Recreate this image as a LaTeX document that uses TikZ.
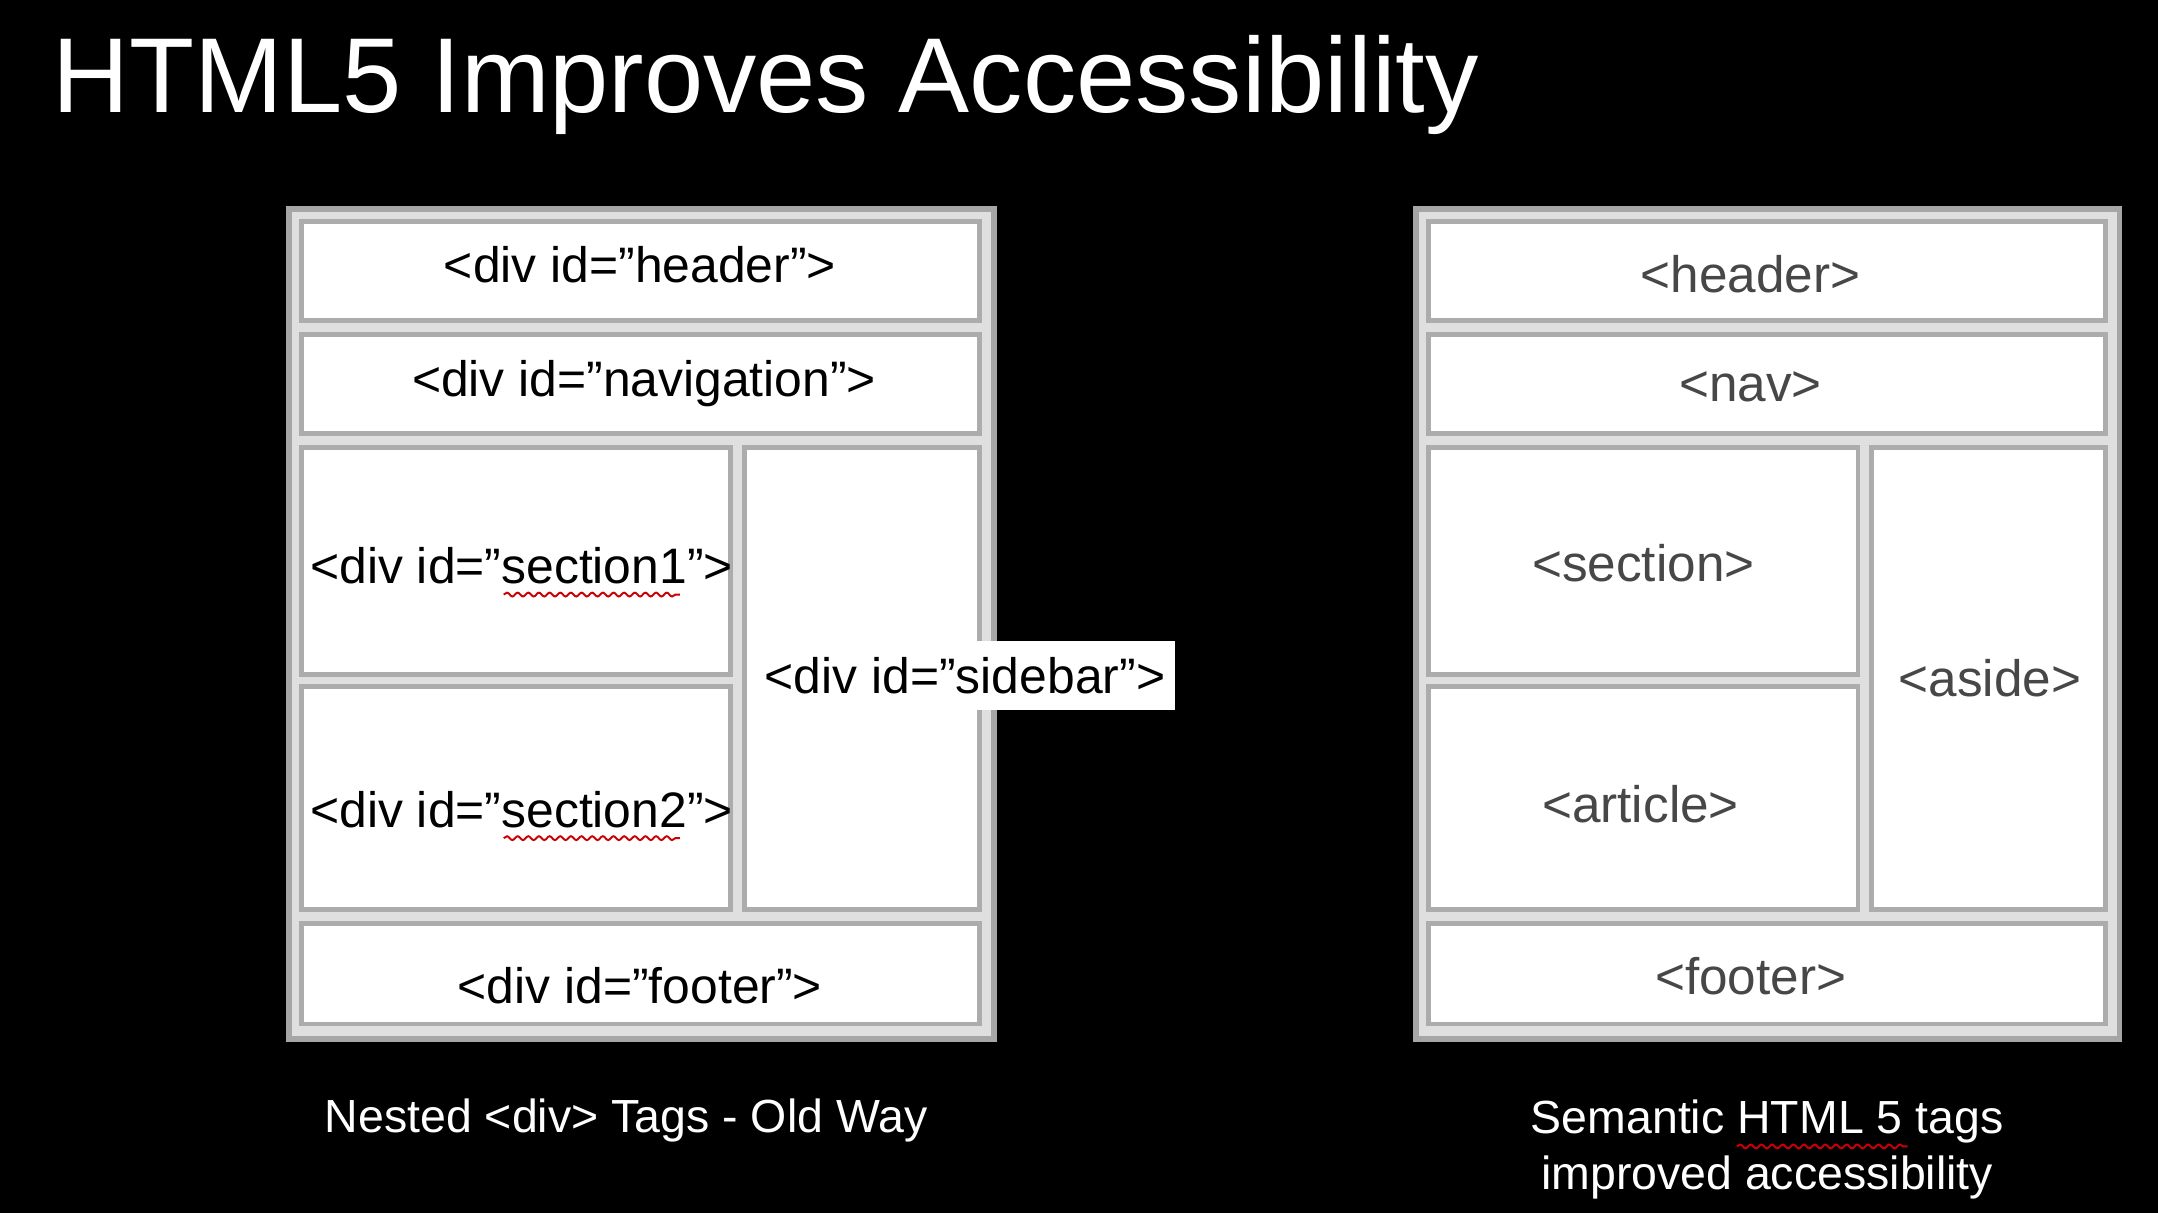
\documentclass[tikz,border=0pt]{standalone}
\usepackage{fontspec}
\setmainfont{Liberation Sans}
\usetikzlibrary{decorations.pathmorphing}
\begin{document}
\begin{tikzpicture}[x=0.01cm,y=-0.01cm,
  panel/.style={draw=gray!70,line width=1.2pt,fill=gray!25},
  cell/.style={draw=gray!65,line width=1pt,fill=white},
  ltxt/.style={font=\fontsize{10.3pt}{12pt}\selectfont,text=black},
  rtxt/.style={font=\fontsize{10.6pt}{12pt}\selectfont,text=black!72},
  captxt/.style={font=\fontsize{9.6pt}{11.5pt}\selectfont,text=white,align=center},
  squig/.style={draw=red!80!black,line width=0.4pt,decorate,decoration={snake,amplitude=0.4pt,segment length=2.2pt}}]
\fill[black] (0,0) rectangle (1568,881);
\useasboundingbox (0,0) rectangle (1568,881);
\node[anchor=west,text=white,font=\fontsize{22pt}{26pt}\selectfont] (title) at (26,62) {HTML5 Improves Accessibility};
% left panel
\draw[panel] (210,152) rectangle (722,755);
\draw[cell] (219,161) rectangle (712,233);
\draw[cell] (219,243) rectangle (712,315);
\draw[cell] (219,325) rectangle (531,490);
\draw[cell] (219,499) rectangle (531,661);
\draw[cell] (541,325) rectangle (712,661);
\draw[cell] (219,671) rectangle (712,744);
\node[ltxt] (lh) at (465,192) {<div id=”header”>};
\node[ltxt] (ln) at (468,279) {<div id=”navigation”>};
\node[ltxt] (ls1) at (379,411) {<div id=”section1”>};
\node[ltxt] (ls2) at (379,588) {<div id=”section2”>};
\node[ltxt,fill=white,inner xsep=2pt,minimum height=0.48cm,anchor=west] (lsb) at (548,491) {<div id=”sidebar”>};
\node[ltxt] (lf) at (465,716) {<div id=”footer”>};
\draw[squig] (366,432) -- (494,432);
\draw[squig] (366,609) -- (494,609);
\node[captxt] (lcap) at (455,814) {Nested <div> Tags - Old Way};
% right panel
\draw[panel] (1029,152) rectangle (1540,755);
\draw[cell] (1038,161) rectangle (1530,233);
\draw[cell] (1038,243) rectangle (1530,315);
\draw[cell] (1038,325) rectangle (1350,490);
\draw[cell] (1038,499) rectangle (1350,661);
\draw[cell] (1360,325) rectangle (1530,661);
\draw[cell] (1038,671) rectangle (1530,744);
\node[rtxt] (rh) at (1272,199) {<header>};
\node[rtxt] (rn) at (1272,281) {<nav>};
\node[rtxt] (rs) at (1194,409) {<section>};
\node[rtxt] (ra) at (1192,584) {<article>};
\node[rtxt] (ras) at (1446,493) {<aside>};
\node[rtxt] (rf) at (1272,709) {<footer>};
\node[captxt] (rcap) at (1284,835) {Semantic HTML 5 tags\\improved accessibility};
\draw[squig] (1262,833) -- (1386,833);
\end{tikzpicture}
\end{document}
